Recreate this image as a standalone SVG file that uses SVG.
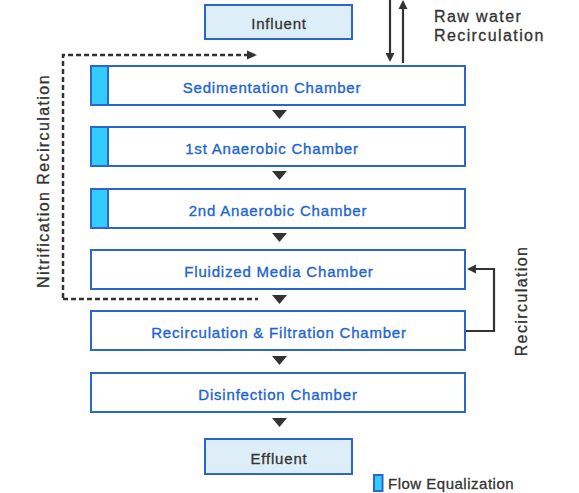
<svg xmlns="http://www.w3.org/2000/svg" width="579" height="493" viewBox="0 0 579 493">
<defs>
<style>
.box{fill:#ffffff;stroke:#2a66cc;stroke-width:2}
.term{fill:#deeef8;stroke:#2a66cc;stroke-width:2}
.eq{fill:#33ccff;stroke:#2a66cc;stroke-width:2}
.bt{font-family:"Liberation Sans",Arial,sans-serif;font-size:15px;letter-spacing:0.8px;fill:#2266cc;stroke:#2266cc;stroke-width:0.35px;text-anchor:middle}
.tt{font-family:"Liberation Sans",Arial,sans-serif;font-size:15px;letter-spacing:0.8px;fill:#333333;stroke:#333333;stroke-width:0.3px;text-anchor:middle}
.lbl{font-family:"Liberation Sans",Arial,sans-serif;font-size:16px;letter-spacing:1.4px;fill:#333333;stroke:#333333;stroke-width:0.3px}
.tri{fill:#333333}
.ln{fill:none;stroke:#333333;stroke-width:2.2}
.dash{fill:none;stroke:#333333;stroke-width:2.5;stroke-dasharray:5 3}
</style>
</defs>

<g id="influent">
<rect class="term" x="205" y="5" width="147" height="34"/>
<text class="tt" x="279" y="29">Influent</text>
</g>

<g id="sedimentation">
<rect class="box" x="91" y="66" width="374" height="39"/>
<rect class="eq" x="91" y="66" width="17" height="39"/>
<text class="bt" x="272" y="93">Sedimentation Chamber</text>
</g>

<g id="anaerobic1">
<rect class="box" x="91" y="127" width="374" height="39"/>
<rect class="eq" x="91" y="127" width="17" height="39"/>
<text class="bt" x="272" y="154">1st Anaerobic Chamber</text>
</g>

<g id="anaerobic2">
<rect class="box" x="91" y="189" width="374" height="39"/>
<rect class="eq" x="91" y="189" width="17" height="39"/>
<text class="bt" x="278" y="216">2nd Anaerobic Chamber</text>
</g>

<g id="fluidized">
<rect class="box" x="91" y="250" width="374" height="39"/>
<text class="bt" x="279" y="277">Fluidized Media Chamber</text>
</g>

<g id="filtration">
<rect class="box" x="91" y="311" width="374" height="39"/>
<text class="bt" x="279" y="338">Recirculation &amp; Filtration Chamber</text>
</g>

<g id="disinfection">
<rect class="box" x="91" y="373" width="374" height="39"/>
<text class="bt" x="278" y="400">Disinfection Chamber</text>
</g>

<g id="effluent">
<rect class="term" x="205" y="439" width="147" height="35"/>
<text class="tt" x="279" y="464">Effluent</text>
</g>

<g id="connectors">
<polygon class="tri" points="272,110 287,110 279.5,119"/>
<polygon class="tri" points="272,171 287,171 279.5,180"/>
<polygon class="tri" points="272,233 287,233 279.5,242"/>
<polygon class="tri" points="272,295 287,295 279.5,304"/>
<polygon class="tri" points="272,356 287,356 279.5,365"/>
<polygon class="tri" points="272,418 287,418 279.5,427"/>

<line class="ln" x1="390" y1="0" x2="390" y2="54"/>
<polygon class="tri" points="385.5,53 394.5,53 390,62"/>
<line class="ln" x1="403" y1="8" x2="403" y2="63"/>
<polygon class="tri" points="398.5,9 407.5,9 403,0"/>

<path class="ln" d="M466,331 H494 V269 H475"/>
<polygon class="tri" points="467,269 476,264.5 476,273.5"/>

<path class="dash" d="M63,298 V55 H247"/>
<polygon class="tri" points="247,50.5 257,55 247,59.5"/>
<path class="dash" d="M63,299 H258"/>
</g>

<g id="labels">
<text class="lbl" x="434" y="21.5">Raw water</text>
<text class="lbl" x="434" y="40.5">Recirculation</text>
<text class="lbl" text-anchor="middle" transform="translate(49,181) rotate(-90)">Nitrification Recirculation</text>
<text class="lbl" text-anchor="middle" transform="translate(527,301) rotate(-90)">Recirculation</text>
</g>

<g id="legend">
<rect class="eq" x="374" y="475" width="8.5" height="16" stroke-width="1.6"/>
<text x="388" y="489" font-family="Liberation Sans, Arial, sans-serif" font-size="15" letter-spacing="0.5" fill="#333333" stroke="#333333" stroke-width="0.3">Flow Equalization</text>
</g>
</svg>
